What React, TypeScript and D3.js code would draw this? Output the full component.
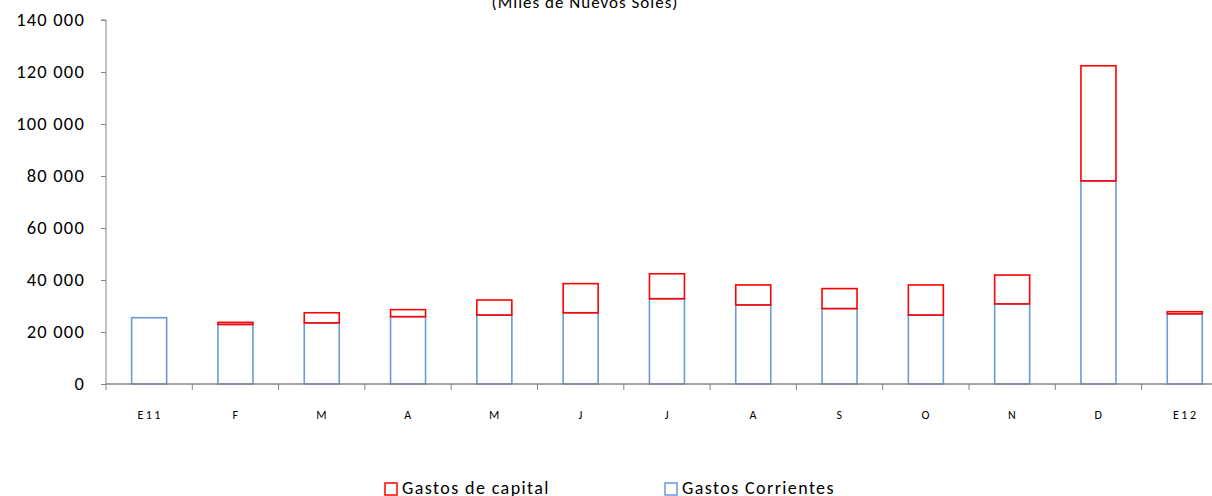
import React, { useEffect, useRef } from 'react';
import * as d3 from 'd3';

const categories = ['E11', 'F', 'M', 'A', 'M ', 'J', 'J ', 'A ', 'S', 'O', 'N', 'D', 'E12'];
const gastosCorrientes = [25500, 22900, 23500, 25900, 26500, 27400, 32800, 30400, 29000, 26500, 30800, 78100, 27000];
const gastosCapital = [0, 800, 3900, 2700, 5800, 11200, 9600, 7700, 7700, 11600, 11100, 44300, 800];
const yTicks = [0, 20000, 40000, 60000, 80000, 100000, 120000, 140000];

const width = 1212;
const height = 496;
const font = 'Carlito, Calibri, Lato, "Open Sans", sans-serif';

const App: React.FC = () => {
  const svgRef = useRef<SVGSVGElement>(null);

  useEffect(() => {
    if (!svgRef.current) return;
    const svg = d3.select(svgRef.current);
    svg.selectAll('*').remove();

    const left = 106;
    const step = 86.3;
    const x = d3.scaleBand<string>()
      .domain(categories)
      .range([left, left + step * categories.length])
      .padding(0);
    const y = d3.scaleLinear().domain([0, 140000]).range([384, 20]);
    const barW = 35;
    const axisColor = '#868686';

    // title (cut at the top, like the source)
    svg.append('text')
      .attr('x', 585)
      .attr('y', 8)
      .attr('text-anchor', 'middle')
      .attr('font-family', font)
      .attr('font-size', 17)
      .attr('letter-spacing', 1)
      .attr('fill', '#000')
      .text('(Miles de Nuevos Soles)');

    // y axis
    const fmt = d3.formatLocale({ decimal: ',', thousands: ' ', grouping: [3], currency: ['', ''] }).format(',d');
    const yAxis = svg.append('g')
      .attr('transform', `translate(${left},0)`)
      .call(d3.axisLeft(y).tickValues(yTicks).tickSize(5).tickPadding(16).tickFormat((d) => fmt(d as number)));
    yAxis.select('.domain').attr('stroke', axisColor).attr('d', `M-5,${y(140000)}H0V${y(0) + 6}`);
    yAxis.selectAll('.tick line').attr('stroke', axisColor);
    yAxis.selectAll('.tick text')
      .attr('font-family', font)
      .attr('font-size', 18.5)
      .attr('letter-spacing', 1.2)
      .attr('fill', '#000');

    // bars
    const g = svg.append('g');
    categories.forEach((c, i) => {
      const bx = (x(c) ?? 0) + (x.bandwidth() - barW) / 2;
      const cur = gastosCorrientes[i];
      const cap = gastosCapital[i];
      g.append('rect')
        .attr('x', bx)
        .attr('y', y(cur))
        .attr('width', barW)
        .attr('height', y(0) - y(cur))
        .attr('fill', 'none')
        .attr('stroke', '#6a9ad8')
        .attr('stroke-width', 1.6);
      if (cap > 0) {
        g.append('rect')
          .attr('x', bx)
          .attr('y', y(cur + cap))
          .attr('width', barW)
          .attr('height', y(cur) - y(cur + cap))
          .attr('fill', 'none')
          .attr('stroke', '#ff0000')
          .attr('stroke-width', 1.6);
      }
    });

    // x axis
    const xg = svg.append('g');
    xg.append('line')
      .attr('x1', left)
      .attr('x2', left + step * categories.length)
      .attr('y1', y(0))
      .attr('y2', y(0))
      .attr('stroke', axisColor)
      .attr('stroke-width', 1.3);
    categories.forEach((c, i) => {
      if (i > 0) {
        xg.append('line')
          .attr('x1', x(c) ?? 0)
          .attr('x2', x(c) ?? 0)
          .attr('y1', y(0))
          .attr('y2', y(0) + 6)
          .attr('stroke', axisColor);
      }
      xg.append('text')
        .attr('x', (x(c) ?? 0) + x.bandwidth() / 2 + 1)
        .attr('y', 419)
        .attr('text-anchor', 'middle')
        .attr('font-family', font)
        .attr('font-size', 12)
        .attr('letter-spacing', 2.5)
        .attr('fill', '#000')
        .text(c.trim());
    });

    // legend
    const legend = [
      { label: 'Gastos de capital', color: '#ff0000', x: 385 },
      { label: 'Gastos Corrientes', color: '#6a9ad8', x: 665 },
    ];
    legend.forEach((l) => {
      svg.append('rect')
        .attr('x', l.x)
        .attr('y', 483)
        .attr('width', 12)
        .attr('height', 12)
        .attr('fill', 'none')
        .attr('stroke', l.color)
        .attr('stroke-width', 1.5);
      svg.append('text')
        .attr('x', l.x + 17)
        .attr('y', 494)
        .attr('font-family', font)
        .attr('font-size', 18)
        .attr('letter-spacing', 1.4)
        .attr('fill', '#000')
        .text(l.label);
    });
  }, []);

  return (
    <svg
      ref={svgRef}
      width={width}
      height={height}
      style={{ position: 'absolute', left: 0, top: 0, display: 'block', background: '#fff' }}
    />
  );
};

export default App;
